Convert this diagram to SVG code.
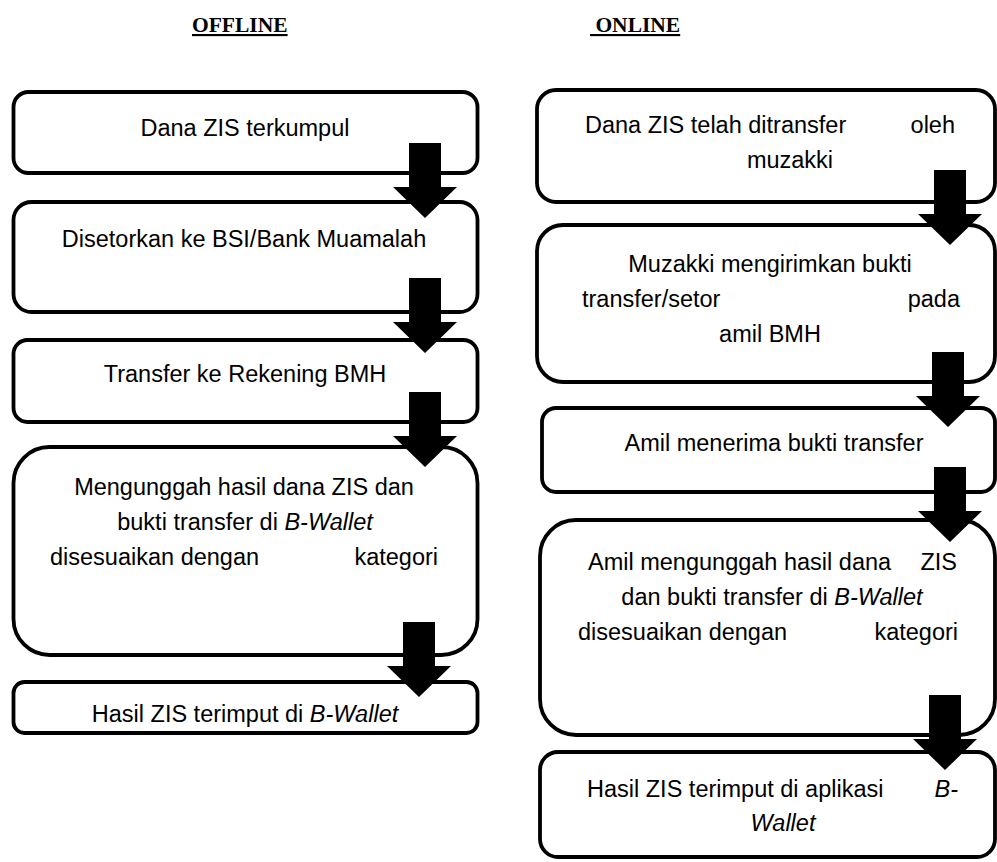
<svg xmlns="http://www.w3.org/2000/svg" xmlns:xlink="http://www.w3.org/1999/xlink" width="997" height="862" viewBox="0 0 997 862">
<style>
.box{fill:#fff;stroke:#000;stroke-width:3.8}
.t{font-family:"Liberation Sans",Arial,sans-serif;font-size:23.5px;fill:#000}
.c{text-anchor:middle}
.e{text-anchor:end}
.i{font-style:italic}
.h{font-family:"Liberation Serif","Times New Roman",serif;font-size:21.5px;font-weight:bold;text-decoration:underline;fill:#000}
.arr{fill:#000}
</style>
<defs>
<path id="arrow" d="M-16,-75 H16 V-31 H32 L0,0 L-32,-31 H-16 Z"/>
</defs>
<rect width="997" height="862" fill="#fff"/>
<g id="headers">
<text class="h" x="192" y="32">OFFLINE</text>
<text class="h" x="590" y="32" xml:space="preserve"> ONLINE</text>
</g>
<g id="off1"><rect class="box" x="13.5" y="92" width="464" height="81" rx="15"/>
<text class="t c" x="245" y="136">Dana ZIS terkumpul</text></g>
<g id="off2"><rect class="box" x="13.5" y="202" width="464" height="110" rx="18"/>
<text class="t c" x="244" y="247">Disetorkan ke BSI/Bank Muamalah</text></g>
<g id="off3"><rect class="box" x="13.5" y="340" width="464" height="82" rx="14"/>
<text class="t c" x="245" y="382">Transfer ke Rekening BMH</text></g>
<g id="off4"><rect class="box" x="13.5" y="447" width="464" height="208" rx="36"/>
<text class="t c" x="244" y="495">Mengunggah hasil dana ZIS dan</text>
<text class="t c" x="245" y="530">bukti transfer di <tspan class="i">B-Wallet</tspan></text>
<text class="t" x="50" y="565">disesuaikan dengan</text>
<text class="t e" x="438" y="565">kategori</text></g>
<g id="off5"><rect class="box" x="13.5" y="682" width="464" height="51" rx="11"/>
<text class="t c" x="245" y="722">Hasil ZIS terimput di <tspan class="i">B-Wallet</tspan></text></g>
<g id="on1"><rect class="box" x="537" y="90" width="458" height="112" rx="19"/>
<text class="t" x="585" y="133">Dana ZIS telah ditransfer</text>
<text class="t e" x="955" y="133">oleh</text>
<text class="t c" x="790" y="168">muzakki</text></g>
<g id="on2"><rect class="box" x="537" y="225" width="458" height="157" rx="26"/>
<text class="t c" x="770" y="272">Muzakki mengirimkan bukti</text>
<text class="t" x="582" y="307">transfer/setor</text>
<text class="t e" x="960" y="307">pada</text>
<text class="t c" x="770" y="342">amil BMH</text></g>
<g id="on3"><rect class="box" x="542" y="408" width="453" height="84" rx="14"/>
<text class="t c" x="774" y="451">Amil menerima bukti transfer</text></g>
<g id="on4"><rect class="box" x="540" y="520" width="455" height="215" rx="36"/>
<text class="t" x="588" y="570">Amil mengunggah hasil dana</text>
<text class="t e" x="957" y="570">ZIS</text>
<text class="t c" x="772" y="605">dan bukti transfer di <tspan class="i">B-Wallet</tspan></text>
<text class="t" x="578" y="640">disesuaikan dengan</text>
<text class="t e" x="958" y="640">kategori</text></g>
<g id="on5"><rect class="box" x="540" y="752" width="455" height="105" rx="18"/>
<text class="t" x="587" y="797">Hasil ZIS terimput di aplikasi</text>
<text class="t e i" x="958" y="797">B-</text>
<text class="t c i" x="783" y="831">Wallet</text></g>
<g id="connectors" class="arr">
<use xlink:href="#arrow" href="#arrow" transform="translate(425,218)"/>
<use xlink:href="#arrow" href="#arrow" transform="translate(425,353)"/>
<use xlink:href="#arrow" href="#arrow" transform="translate(425,467)"/>
<use xlink:href="#arrow" href="#arrow" transform="translate(419,697)"/>
<use xlink:href="#arrow" href="#arrow" transform="translate(950,245)"/>
<use xlink:href="#arrow" href="#arrow" transform="translate(948,427)"/>
<use xlink:href="#arrow" href="#arrow" transform="translate(950,542)"/>
<use xlink:href="#arrow" href="#arrow" transform="translate(945,770)"/>
</g>
</svg>
